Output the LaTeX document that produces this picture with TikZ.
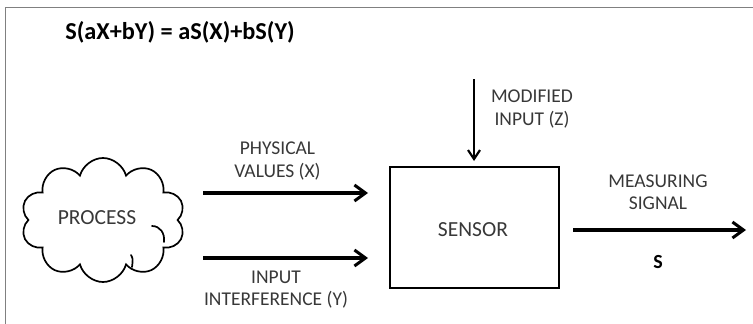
\documentclass[tikz,border=0pt]{standalone}
\usepackage{fontspec}
\setmainfont{Carlito}
\usetikzlibrary{arrows.meta,shapes.symbols,positioning}
\tikzset{
    txt/.style={font=\fontsize{19.5}{22.5}\selectfont, align=center, text=black!78, inner sep=0pt},
    bigtxt/.style={txt, font=\fontsize{21.5}{24}\selectfont},
    signalarrow/.style={line width=3.2pt, -{Straight Barb[length=11pt,width=16pt,line width=3pt]}},
    thinarrow/.style={line width=2.2pt, -{Straight Barb[length=9pt,width=12pt,line width=2.2pt]}},
    curl/.style={line width=1.7pt, line cap=round},
}
\begin{document}
\begin{tikzpicture}[x=1pt,y=-1pt]
    \useasboundingbox (0,0) rectangle (753,324);
    \draw[black!50, line width=1pt] (5,324) -- (5,7) -- (753,7);
    % title
    \node[font=\bfseries\fontsize{24.3}{27}\selectfont, inner sep=0pt] (law) at (180,32) {S(aX+bY) = aS(X)+bS(Y)};
    % blocks
    \node[cloud, draw, line width=1.7pt, cloud puffs=10, cloud puff arc=150, aspect=1.3,
          minimum width=164pt, minimum height=124pt, inner sep=0pt] (process) at (103,220) {};
    \draw[curl] (152,226) .. controls (160,226) and (165,233) .. (164,242);
    \draw[curl] (131,255) .. controls (133,259) .. (132,267);
    \node[bigtxt] (proctxt) at (97,217.5) {PROCESS};
    \node[draw, line width=1.5pt, minimum width=169pt, minimum height=121pt, inner sep=0pt] (sensor) at (474.5,227.5) {};
    \node[bigtxt] (senstxt) at (473,230) {SENSOR};
    % arrow ends
    \coordinate (xin) at (203,193);
    \coordinate (xout) at (368,193);
    \coordinate (yin) at (203,258);
    \coordinate (yout) at (368,258);
    \coordinate (zin) at (474,79);
    \coordinate (zout) at (474,161);
    \coordinate (sin) at (573,230);
    \coordinate (sout) at (746,230);
    \draw[signalarrow] (xin) -- (xout);
    \draw[signalarrow] (yin) -- (yout);
    \draw[thinarrow] (zin) -- (zout);
    \draw[signalarrow] (sin) -- (sout);
    % labels
    \node[txt] (xlab) at (277.5,161) {PHYSICAL\\VALUES (X)};
    \node[txt] (ylab) at (276,289.5) {INPUT\\INTERFERENCE (Y)};
    \node[txt] (zlab) at (532,109) {MODIFIED\\INPUT (Z)};
    \node[txt] (slab) at (658,192) {MEASURING\\SIGNAL};
    \node[txt, font=\bfseries\fontsize{20}{22}\selectfont, text=black] (sname) at (658,262) {S};
\end{tikzpicture}
\end{document}
